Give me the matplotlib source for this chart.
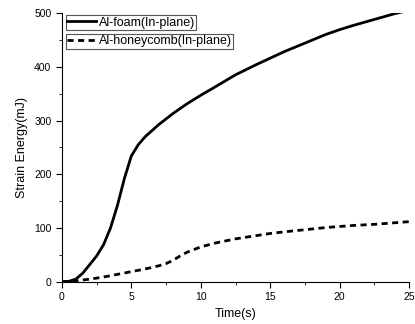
import matplotlib
matplotlib.use("Agg")
import matplotlib.pyplot as plt
from matplotlib.lines import Line2D

plt.rcParams['font.family'] = ['Liberation Sans', 'DejaVu Sans']

# Al-foam (in-plane)
t_foam = [0, 0.5, 1, 1.5, 2, 2.5, 3, 3.5, 4, 4.5, 5, 5.5, 6, 7, 8, 9, 10, 11, 12.5, 14, 15, 16, 17.5, 19, 20, 21, 22.5, 24, 25]
e_foam = [0, 1, 5, 16, 32, 48, 69, 100, 142, 192, 234, 255, 270, 293, 313, 331, 347, 362, 385, 404, 416, 428, 444, 460, 469, 477, 488, 499, 505]

# Al-honeycomb (in-plane)
t_honey = [0, 1, 2, 2.5, 3, 4, 5, 6, 7, 7.5, 8, 8.5, 9, 9.5, 10, 11, 12.5, 14, 15, 16, 17.5, 19, 20, 21, 22.5, 24, 25]
e_honey = [0, 2, 5, 7, 9, 14, 19, 24, 30, 34, 40, 48, 55, 60, 65, 72, 80, 86, 90, 93, 97, 101, 103, 105, 107, 110, 112]

fig = plt.figure(figsize=(4.15, 3.24), dpi=100)
ax = fig.add_axes([0.149, 0.130, 0.837, 0.830])

ax.plot(t_foam, e_foam, color='black', lw=2)
ax.plot(t_honey, e_honey, color='black', lw=2, ls=(0, (2.2, 1.6)))

ax.set_xlim(0, 25)
ax.set_ylim(0, 500)
ax.set_xticks([0, 5, 10, 15, 20, 25])
ax.set_xticks([2.5, 7.5, 12.5, 17.5, 22.5], minor=True)
ax.set_yticks([0, 100, 200, 300, 400, 500])
ax.set_yticks([50, 150, 250, 350, 450], minor=True)
ax.spines['top'].set_visible(False)
ax.spines['right'].set_visible(False)
ax.tick_params(which='major', direction='out', length=4, labelsize=7.5)
ax.tick_params(which='minor', direction='out', length=2)
ax.set_xlabel('Time(s)', fontsize=9)
ax.set_ylabel('Strain Energy(mJ)', fontsize=9)

h1 = Line2D([], [], color='black', lw=2)
h2 = Line2D([], [], color='black', lw=2, ls=(0, (2.2, 1.6)))
leg_kw = dict(loc='upper left', fancybox=False, edgecolor='#555555', fontsize=9,
              handlelength=2.3, handletextpad=0.25, borderpad=0.1, borderaxespad=0.3,
              framealpha=1)
leg1 = ax.legend([h1], ['Al-foam(In-plane)'], bbox_to_anchor=(0.0, 1.005), **leg_kw)
leg1.get_frame().set_linewidth(0.8)
ax.add_artist(leg1)
leg2 = ax.legend([h2], ['Al-honeycomb(In-plane)'], bbox_to_anchor=(0.0, 0.935), **leg_kw)
leg2.get_frame().set_linewidth(0.8)

fig.savefig('out.png', dpi=100)
